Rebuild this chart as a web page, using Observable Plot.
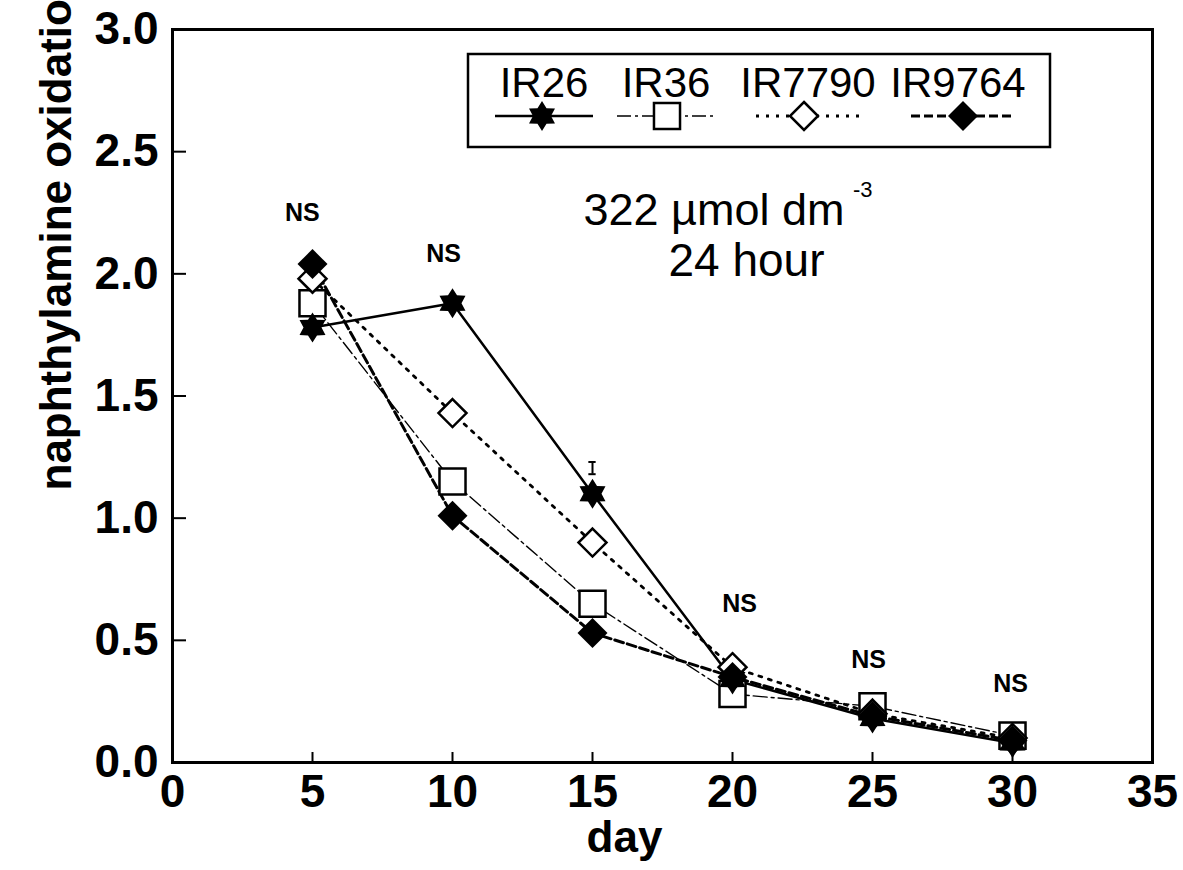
<!DOCTYPE html>
<html><head><meta charset="utf-8">
<script src="https://cdn.jsdelivr.net/npm/d3@7"></script>
<script src="https://cdn.jsdelivr.net/npm/@observablehq/plot@0.6"></script>
<style>
body{margin:0;background:#fff;}
#chart{position:relative;width:1183px;height:870px;overflow:hidden;background:#fff}
</style>
</head><body><div id="chart"></div>
<script>
// ---- data ----
const days = [5, 10, 15, 20, 25, 30];
const seriesNames = ["IR26", "IR36", "IR7790", "IR9764"];
const ir26   = [1.78, 1.88, 1.10, 0.34, 0.18, 0.08];
const ir36   = [1.88, 1.15, 0.65, 0.28, 0.23, 0.11];
const ir7790 = [1.98, 1.43, 0.90, 0.39, 0.20, 0.10];
const ir9764 = [2.04, 1.01, 0.53, 0.35, 0.19, 0.09];
const xTicks = [0, 5, 10, 15, 20, 25, 30, 35];
const yTicks = [0, 0.5, 1.0, 1.5, 2.0, 2.5, 3.0];
const errDay = [15], errLow = [1.18], errHigh = [1.23];
const nsText = ["NS", "NS", "NS", "NS", "NS"];
const nsDay = [4.64, 9.68, 20.25, 24.86, 29.93];
const nsValue = [2.25, 2.08, 0.65, 0.42, 0.32];
const annotText = ["322 µmol dm", "-3", "24 hour"];
const annotDay = [14.68, 24.3, 20.5];
const annotValue = [2.198, 2.315, 1.99];
const xLabel = "day";
const yLabel = "naphthylamine oxidation";

// ---- symbols ----
const hexStar = {draw(ctx, size) {
  const r = Math.sqrt(size / Math.PI), ri = r * 0.6;
  for (let i = 0; i < 12; i++) {
    const a = i * Math.PI / 6, rr = i % 2 ? ri : r;
    const x = rr * Math.sin(a), y = -rr * Math.cos(a);
    if (i) ctx.lineTo(x, y); else ctx.moveTo(x, y);
  }
  ctx.closePath();
}};
const squareSym = {draw(ctx, size) {
  const r = Math.sqrt(size / Math.PI) * 0.93;
  ctx.rect(-r, -r, 2 * r, 2 * r);
}};
const diamondSym = {draw(ctx, size) {
  const r = Math.sqrt(size / Math.PI);
  ctx.moveTo(0, -r); ctx.lineTo(r, 0); ctx.lineTo(0, r); ctx.lineTo(-r, 0); ctx.closePath();
}};

const seriesValues = {IR26: ir26, IR36: ir36, IR7790: ir7790, IR9764: ir9764};
const styles = {
  IR26:   {symbol: hexStar,    r: 15, fill: "black", stroke: "none",  sw: 0,   lineW: 2.5, dash: null},
  IR36:   {symbol: squareSym,  r: 14, fill: "white", stroke: "black", sw: 2.5, lineW: 1.4, dash: "14,4,3,4"},
  IR7790: {symbol: diamondSym, r: 14, fill: "white", stroke: "black", sw: 2.5, lineW: 2.8, dash: "3,7"},
  IR9764: {symbol: diamondSym, r: 15, fill: "black", stroke: "none",  sw: 0,   lineW: 3,   dash: "9,4"}
};
const table = name => days.map((d, i) => ({day: d, value: seriesValues[name][i]}));

const lineMarks = seriesNames.map(name => Plot.line(table(name), {
  x: "day", y: "value", stroke: "black", strokeWidth: styles[name].lineW,
  strokeDasharray: styles[name].dash
}));
const dotOrder = ["IR36", "IR26", "IR7790", "IR9764"];
const dotMarks = dotOrder.map(name => Plot.dot(table(name), {
  x: "day", y: "value", symbol: styles[name].symbol, r: styles[name].r,
  fill: styles[name].fill, stroke: styles[name].stroke, strokeWidth: styles[name].sw
}));

const err = errDay.map((d, i) => ({day: d, lo: errLow[i], hi: errHigh[i]}));
const ns = nsText.map((t, i) => ({t, day: nsDay[i], value: nsValue[i]}));
const annot = annotText.map((t, i) => ({t, day: annotDay[i], value: annotValue[i]}));

const plot = Plot.plot({
  width: 1183, height: 870,
  marginLeft: 172, marginRight: 31, marginTop: 29, marginBottom: 108,
  style: {fontFamily: "'Liberation Sans', Arial, sans-serif", fontSize: "46px", fontWeight: "bold", background: "white", color: "black"},
  x: {domain: [0, 35], label: null},
  y: {domain: [0, 3], label: null},
  marks: [
    Plot.axisX({ticks: xTicks, tickSize: -10, tickPadding: 22, strokeWidth: 2, label: null, tickFormat: d => String(d)}),
    Plot.axisY({ticks: yTicks, tickSize: -14, tickPadding: 28, strokeWidth: 2, label: null, tickFormat: d3.format(".1f")}),
    Plot.frame({strokeWidth: 3}),
    ...lineMarks,
    ...dotMarks,
    Plot.ruleX(err, {x: "day", y1: "lo", y2: "hi", strokeWidth: 2}),
    Plot.ruleY(err, {y: "hi", x1: d => d.day - 0.13, x2: d => d.day + 0.13, strokeWidth: 2}),
    Plot.ruleY(err, {y: "lo", x1: d => d.day - 0.13, x2: d => d.day + 0.13, strokeWidth: 2}),
    Plot.text(ns, {x: "day", y: "value", text: "t", fontSize: 25, fontWeight: "bold"}),
    Plot.text(annot.slice(0, 1), {x: "day", y: "value", text: "t", fontSize: 45, fontWeight: "normal", textAnchor: "start", lineAnchor: "bottom"}),
    Plot.text(annot.slice(1, 2), {x: "day", y: "value", text: "t", fontSize: 22, fontWeight: "normal", textAnchor: "start", lineAnchor: "bottom"}),
    Plot.text(annot.slice(2, 3), {x: "day", y: "value", text: "t", fontSize: 46, fontWeight: "normal", textAnchor: "middle", lineAnchor: "bottom"}),
    Plot.text([xLabel], {text: d => d, frameAnchor: "bottom", lineAnchor: "bottom", dx: -38, dy: 89, fontSize: 44, fontWeight: "bold"}),
    Plot.text([yLabel], {text: d => d, frameAnchor: "left", rotate: -90, textAnchor: "start", lineAnchor: "middle", dx: -116, dy: 94.5, fontSize: 44, fontWeight: "bold"})
  ]
});
document.getElementById("chart").appendChild(plot);

// ---- legend (drawn inside the plot area, top right) ----
const svg = d3.select(plot);
const lg = svg.append("g").attr("class", "legend");
lg.append("rect").attr("x", 468).attr("y", 54).attr("width", 582).attr("height", 93)
  .attr("fill", "white").attr("stroke", "black").attr("stroke-width", 2.5);
const legendText = [544, 666, 808, 958];
const legendSym = [542, 667, 804, 963];
const legendLine = [[495, 593], [617, 717], [756, 860], [911, 1011]];
seriesNames.forEach((name, i) => {
  const s = styles[name];
  lg.append("text").attr("x", legendText[i]).attr("y", 97).attr("text-anchor", "middle")
    .attr("font-size", 42).attr("font-weight", "normal").attr("fill", "black").text(name);
  lg.append("line").attr("x1", legendLine[i][0]).attr("x2", legendLine[i][1]).attr("y1", 116).attr("y2", 116)
    .attr("stroke", "black").attr("stroke-width", s.lineW).attr("stroke-dasharray", s.dash);
  lg.append("path").attr("transform", `translate(${legendSym[i]},116)`)
    .attr("d", d3.symbol(s.symbol, Math.PI * s.r * s.r)())
    .attr("fill", s.fill).attr("stroke", s.stroke).attr("stroke-width", s.sw);
});
</script>
</body></html>
